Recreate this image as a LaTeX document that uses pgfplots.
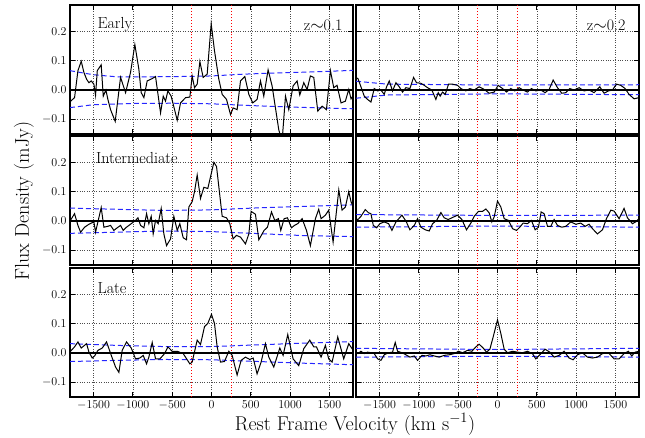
\documentclass[border=0pt]{standalone}
\usepackage{pgfplots}
\pgfplotsset{compat=1.18}
\definecolor{envblue}{rgb}{0.15,0.15,1}
\tikzset{lab/.style={font=\fontsize{16}{18}\selectfont}}
\pgfplotsset{
  panel/.style={
    anchor=north west, scale only axis, width=283pt, height=129pt,
    xmin=-1800, xmax=1800, ymin=-0.15, ymax=0.29,
    xtick={-1500,-1000,-500,0,500,1000,1500}, ytick={-0.1,0,0.1,0.2},
    grid=major, major grid style={black!70, dotted, line width=0.6pt},
    axis line style={line width=1.3pt},
    tick style={black, line width=0.9pt}, major tick length=5pt, tick align=inside,
    xtick pos=both, ytick pos=both,
    clip=true,
    ticklabel style={font=\fontsize{11.5}{14}\selectfont},
    /pgf/number format/1000 sep={},
    yticklabel style={/pgf/number format/.cd, fixed, fixed zerofill, precision=1},
  },
  nox/.style={xticklabels={}},
  noy/.style={yticklabels={}},
  spec/.style={black, line width=1pt},
  env/.style={envblue, dash pattern=on 5pt off 3pt, line width=1pt},
  vel/.style={red, dotted, line width=0.9pt},
  zero/.style={black, line width=1.2pt},
}
\begin{document}
\begin{tikzpicture}
\useasboundingbox (0pt,0pt) rectangle (645pt,-437pt);
% ---------- Row 1, left: Early z~0.1
\begin{axis}[panel, nox, at={(70pt,-5pt)}]
\addplot[vel] coordinates {(-250,-0.15) (-250,0.29)};
\addplot[vel] coordinates {(250,-0.15) (250,0.29)};
\addplot[zero] coordinates {(-1800,0) (1800,0)};
\addplot[env] coordinates {(-1800,0.066) (-1500,0.052) (-1200,0.045) (-800,0.045) (-400,0.046) (0,0.048) (400,0.054) (800,0.058) (1200,0.061) (1800,0.067)};
\addplot[env] coordinates {(-1800,-0.060) (-1500,-0.050) (-1000,-0.046) (-500,-0.045) (0,-0.047) (500,-0.053) (1000,-0.058) (1500,-0.062) (1800,-0.064)};
\addplot[spec] coordinates {
(-1800,-0.040) (-1742,-0.026) (-1699,0.066) (-1657,0.098) (-1623,0.060) (-1589,0.037) (-1559,0.025) (-1530,0.031) (-1496,0.020) (-1475,-0.018)
(-1453,0.066) (-1403,0.086) (-1377,-0.021) (-1343,0.000) (-1318,-0.032) (-1284,-0.067) (-1225,-0.107) (-1157,0.043) (-1093,-0.009) (-1030,0.060)
(-975,0.155) (-924,0.071) (-894,-0.009) (-860,-0.026) (-818,0.031) (-754,0.039) (-712,0.046) (-648,-0.078) (-614,-0.021) (-585,-0.038)
(-555,-0.003) (-513,-0.021) (-436,-0.103) (-394,-0.044) (-330,-0.026) (-275,-0.024) (-246,0.048) (-216,0.008) (-182,0.020) (-148,0.097)
(-106,0.043) (-55,0.054) (-4,0.226) (38,0.134) (93,0.037) (136,-0.015) (191,-0.032) (242,-0.084) (275,-0.061) (326,-0.067)
(369,0.031) (424,0.046) (475,-0.015) (525,-0.044) (580,-0.032) (623,0.031) (665,-0.021) (720,0.069) (771,0.014) (856,-0.136)
(898,-0.175) (941,-0.021) (983,-0.067) (1038,0.014) (1089,0.031) (1123,-0.017) (1174,0.025) (1216,0.002) (1258,0.048) (1301,0.043)
(1352,-0.072) (1407,-0.055) (1462,-0.067) (1513,0.066) (1555,0.008) (1597,0.016) (1648,-0.044) (1703,-0.038) (1746,0.002) (1775,-0.030) (1800,-0.020)};
\node[lab, anchor=west] at (rel axis cs:0.085,0.845) {Early};
\node[lab, anchor=east] at (rel axis cs:0.975,0.845) {z$\sim$0.1};
\end{axis}
% ---------- Row 1, right: Early z~0.2
\begin{axis}[panel, nox, noy, at={(356pt,-5pt)}]
\addplot[vel] coordinates {(-250,-0.15) (-250,0.29)};
\addplot[vel] coordinates {(250,-0.15) (250,0.29)};
\addplot[zero] coordinates {(-1800,0) (1800,0)};
\addplot[env] coordinates {(-1800,0.030) (-1400,0.020) (0,0.017) (1800,0.018)};
\addplot[env] coordinates {(-1800,-0.028) (-1400,-0.017) (0,-0.013) (1800,-0.016)};
\addplot[spec] coordinates {
(-1800,0.042) (-1775,0.039) (-1737,0.011) (-1695,-0.021) (-1653,-0.032) (-1610,-0.041) (-1568,0.005) (-1525,-0.003) (-1483,0.000) (-1441,-0.015)
(-1411,0.011) (-1377,0.031) (-1335,-0.003) (-1292,0.025) (-1250,0.011) (-1208,-0.007) (-1165,0.008) (-1114,0.005) (-1068,0.043) (-1030,0.025)
(-975,0.023) (-932,0.016) (-890,0.008) (-835,0.000) (-784,-0.032) (-754,-0.009) (-729,-0.021) (-699,-0.007) (-665,-0.015) (-623,0.020)
(-572,0.020) (-508,0.016) (-466,0.005) (-403,-0.003) (-352,0.005) (-297,0.000) (-233,0.011) (-169,0.002) (-106,-0.011) (-42,-0.007)
(8,0.016) (64,0.005) (114,-0.007) (169,0.005) (220,-0.003) (275,0.008) (326,0.000) (381,-0.007) (432,0.005) (487,-0.003)
(551,0.000) (606,-0.009) (657,0.002) (708,0.034) (763,0.008) (818,-0.011) (869,-0.009) (919,0.005) (975,0.000) (1038,0.008)
(1102,-0.003) (1165,0.000) (1229,-0.009) (1301,0.011) (1356,-0.011) (1411,-0.003) (1462,0.000) (1513,0.020) (1568,0.016) (1623,0.005)
(1674,-0.015) (1737,-0.030) (1800,-0.026)};
\node[lab, anchor=east] at (rel axis cs:0.965,0.845) {z$\sim$0.2};
\end{axis}
% ---------- Row 2, left: Intermediate
\begin{axis}[panel, nox, at={(70pt,-136pt)}]
\addplot[vel] coordinates {(-250,-0.15) (-250,0.29)};
\addplot[vel] coordinates {(250,-0.15) (250,0.29)};
\addplot[zero] coordinates {(-1800,0) (1800,0)};
\addplot[env] coordinates {(-1800,0.044) (-1200,0.040) (-600,0.036) (0,0.038) (600,0.045) (1200,0.050) (1800,0.055)};
\addplot[env] coordinates {(-1800,-0.042) (-1200,-0.038) (-600,-0.034) (0,-0.036) (600,-0.043) (1200,-0.050) (1800,-0.053)};
\addplot[spec] coordinates {
(-1800,0.000) (-1742,0.025) (-1699,-0.015) (-1665,-0.038) (-1614,-0.021) (-1559,-0.011) (-1496,-0.003) (-1475,-0.038) (-1445,-0.003) (-1403,0.046)
(-1369,-0.021) (-1318,-0.018) (-1284,-0.015) (-1242,-0.032) (-1199,-0.023) (-1157,-0.015) (-1123,-0.032) (-1081,-0.021) (-1021,-0.009) (-966,0.002)
(-936,0.011) (-902,-0.015) (-860,-0.023) (-826,0.025) (-797,-0.009) (-767,0.016) (-742,-0.044) (-712,0.002) (-678,-0.009) (-640,0.043)
(-606,-0.044) (-572,-0.084) (-521,-0.061) (-479,0.016) (-436,-0.032) (-403,-0.009) (-360,-0.057) (-318,-0.064) (-288,0.048) (-246,0.066)
(-216,0.100) (-182,0.157) (-140,0.077) (-97,0.115) (-47,0.111) (30,0.200) (64,0.186) (136,0.016) (191,0.011) (233,-0.009)
(275,-0.061) (318,-0.049) (369,-0.055) (432,-0.078) (475,-0.044) (504,0.033) (559,0.023) (602,-0.064) (669,-0.032) (712,-0.021)
(763,0.031) (805,0.002) (852,0.008) (881,-0.032) (924,0.008) (966,0.011) (1017,-0.023) (1055,-0.015) (1097,-0.009) (1153,0.008)
(1208,-0.032) (1258,-0.084) (1322,0.008) (1364,0.040) (1394,0.008) (1449,0.020) (1491,0.037) (1547,-0.072) (1619,0.106) (1661,0.037)
(1703,0.048) (1746,0.100) (1775,0.066) (1800,0.050)};
\node[lab, anchor=west] at (rel axis cs:0.08,0.83) {Intermediate};
\end{axis}
% ---------- Row 2, right
\begin{axis}[panel, nox, noy, at={(356pt,-136pt)}]
\addplot[vel] coordinates {(-250,-0.15) (-250,0.29)};
\addplot[vel] coordinates {(250,-0.15) (250,0.29)};
\addplot[zero] coordinates {(-1800,0) (1800,0)};
\addplot[env] coordinates {(-1800,0.022) (0,0.019) (1800,0.020)};
\addplot[env] coordinates {(-1800,-0.021) (0,-0.017) (1800,-0.021)};
\addplot[spec] coordinates {
(-1800,0.008) (-1775,0.005) (-1737,0.016) (-1682,0.039) (-1640,0.028) (-1610,0.025) (-1580,-0.015) (-1538,-0.023) (-1496,-0.009) (-1441,-0.003)
(-1386,-0.009) (-1343,-0.032) (-1292,-0.003) (-1216,0.020) (-1165,0.000) (-1114,-0.030) (-1059,-0.015) (-1017,0.008) (-975,-0.021) (-919,-0.030)
(-869,-0.034) (-826,-0.009) (-775,0.002) (-720,0.029) (-678,0.011) (-627,0.005) (-581,0.011) (-508,0.020) (-453,0.005) (-394,-0.030)
(-339,-0.007) (-297,0.016) (-242,0.033) (-191,0.033) (-148,0.041) (-106,0.028) (-72,-0.003) (-42,0.014) (0,0.068) (42,0.048)
(85,0.008) (140,0.002) (191,-0.026) (242,-0.032) (284,-0.021) (326,-0.007) (381,-0.009) (432,0.002) (479,-0.030) (521,-0.021)
(555,0.031) (593,0.025) (636,-0.018) (678,-0.018) (720,0.005) (763,-0.015) (818,-0.021) (869,-0.018) (932,-0.003) (996,-0.011)
(1059,-0.007) (1114,-0.018) (1165,-0.011) (1208,-0.026) (1271,-0.044) (1335,-0.030) (1386,0.008) (1441,0.037) (1483,0.034) (1547,0.008)
(1610,0.043) (1653,0.011) (1716,-0.009) (1758,-0.003) (1800,0.008)};
\end{axis}
% ---------- Row 3, left: Late
\begin{axis}[panel, at={(70pt,-268pt)}]
\addplot[vel] coordinates {(-250,-0.15) (-250,0.29)};
\addplot[vel] coordinates {(250,-0.15) (250,0.29)};
\addplot[zero] coordinates {(-1800,0) (1800,0)};
\addplot[env] coordinates {(-1800,0.032) (-1200,0.026) (-600,0.022) (0,0.022) (600,0.028) (1200,0.034) (1800,0.039)};
\addplot[env] coordinates {(-1800,-0.029) (-1200,-0.025) (-600,-0.022) (0,-0.023) (600,-0.029) (1200,-0.035) (1800,-0.040)};
\addplot[spec] coordinates {
(-1800,0.004) (-1742,0.021) (-1699,0.038) (-1657,0.017) (-1589,0.032) (-1559,0.003) (-1517,-0.017) (-1487,-0.010) (-1445,0.009) (-1390,0.017)
(-1335,0.038) (-1275,-0.008) (-1220,-0.048) (-1178,-0.066) (-1136,0.009) (-1081,0.038) (-1021,0.017) (-966,-0.020) (-911,-0.017) (-869,-0.008)
(-826,-0.037) (-797,-0.014) (-754,0.036) (-712,-0.020) (-657,-0.020) (-597,-0.002) (-555,0.021) (-500,0.006) (-436,0.006) (-360,-0.002)
(-275,-0.037) (-246,-0.031) (-182,0.044) (-140,0.029) (-89,0.090) (-47,0.101) (0,0.132) (38,0.101) (72,0.021) (114,-0.031)
(165,-0.029) (220,0.006) (263,-0.008) (326,-0.075) (377,-0.025) (432,-0.014) (487,-0.022) (530,-0.017) (580,-0.071) (631,-0.031)
(686,0.032) (729,-0.014) (792,-0.048) (869,0.017) (911,-0.008) (970,0.063) (1038,-0.020) (1110,-0.043) (1174,0.015) (1250,0.044)
(1301,0.021) (1335,0.021) (1394,-0.014) (1449,0.026) (1491,-0.020) (1534,-0.031) (1606,0.055) (1682,-0.020) (1746,0.032) (1800,0.010)};
\node[lab, anchor=west] at (rel axis cs:0.085,0.845) {Late};
\end{axis}
% ---------- Row 3, right
\begin{axis}[panel, noy, at={(356pt,-268pt)}]
\addplot[vel] coordinates {(-250,-0.15) (-250,0.29)};
\addplot[vel] coordinates {(250,-0.15) (250,0.29)};
\addplot[zero] coordinates {(-1800,0) (1800,0)};
\addplot[env] coordinates {(-1800,0.016) (0,0.012) (1800,0.016)};
\addplot[env] coordinates {(-1800,-0.014) (0,-0.011) (1800,-0.014)};
\addplot[spec] coordinates {
(-1800,0.000) (-1775,-0.002) (-1737,0.006) (-1695,-0.002) (-1653,0.003) (-1610,0.001) (-1568,-0.002) (-1525,-0.020) (-1483,-0.025) (-1441,-0.006)
(-1386,0.001) (-1335,0.003) (-1301,0.036) (-1271,0.006) (-1216,0.001) (-1165,-0.006) (-1114,-0.014) (-1059,-0.010) (-1017,-0.025) (-962,-0.008)
(-911,-0.010) (-860,-0.006) (-805,-0.010) (-742,-0.014) (-678,-0.008) (-614,-0.006) (-551,-0.002) (-496,0.006) (-445,0.001) (-381,0.009)
(-326,0.006) (-275,0.021) (-233,0.030) (-182,0.017) (-140,0.003) (-97,0.013) (-55,0.055) (0,0.113) (42,0.067) (85,0.013)
(127,0.001) (191,0.006) (254,0.003) (318,0.001) (381,0.006) (445,-0.002) (487,-0.020) (538,-0.006) (606,0.013) (665,0.003)
(720,-0.014) (784,-0.008) (847,0.006) (911,-0.017) (962,-0.023) (1017,-0.006) (1080,0.001) (1144,-0.014) (1208,-0.017) (1271,-0.014)
(1335,-0.002) (1411,0.001) (1483,-0.020) (1547,-0.020) (1610,-0.002) (1665,0.006) (1708,-0.010) (1750,0.003) (1800,0.006)};
\end{axis}
\node[rotate=90, font=\fontsize{20}{24}\selectfont] at (24pt,-201pt) {Flux Density (mJy)};
\node[anchor=base, font=\fontsize{20}{24}\selectfont] at (355pt,-430pt) {Rest Frame Velocity (km s$^{-1}$)};
\end{tikzpicture}
\end{document}
